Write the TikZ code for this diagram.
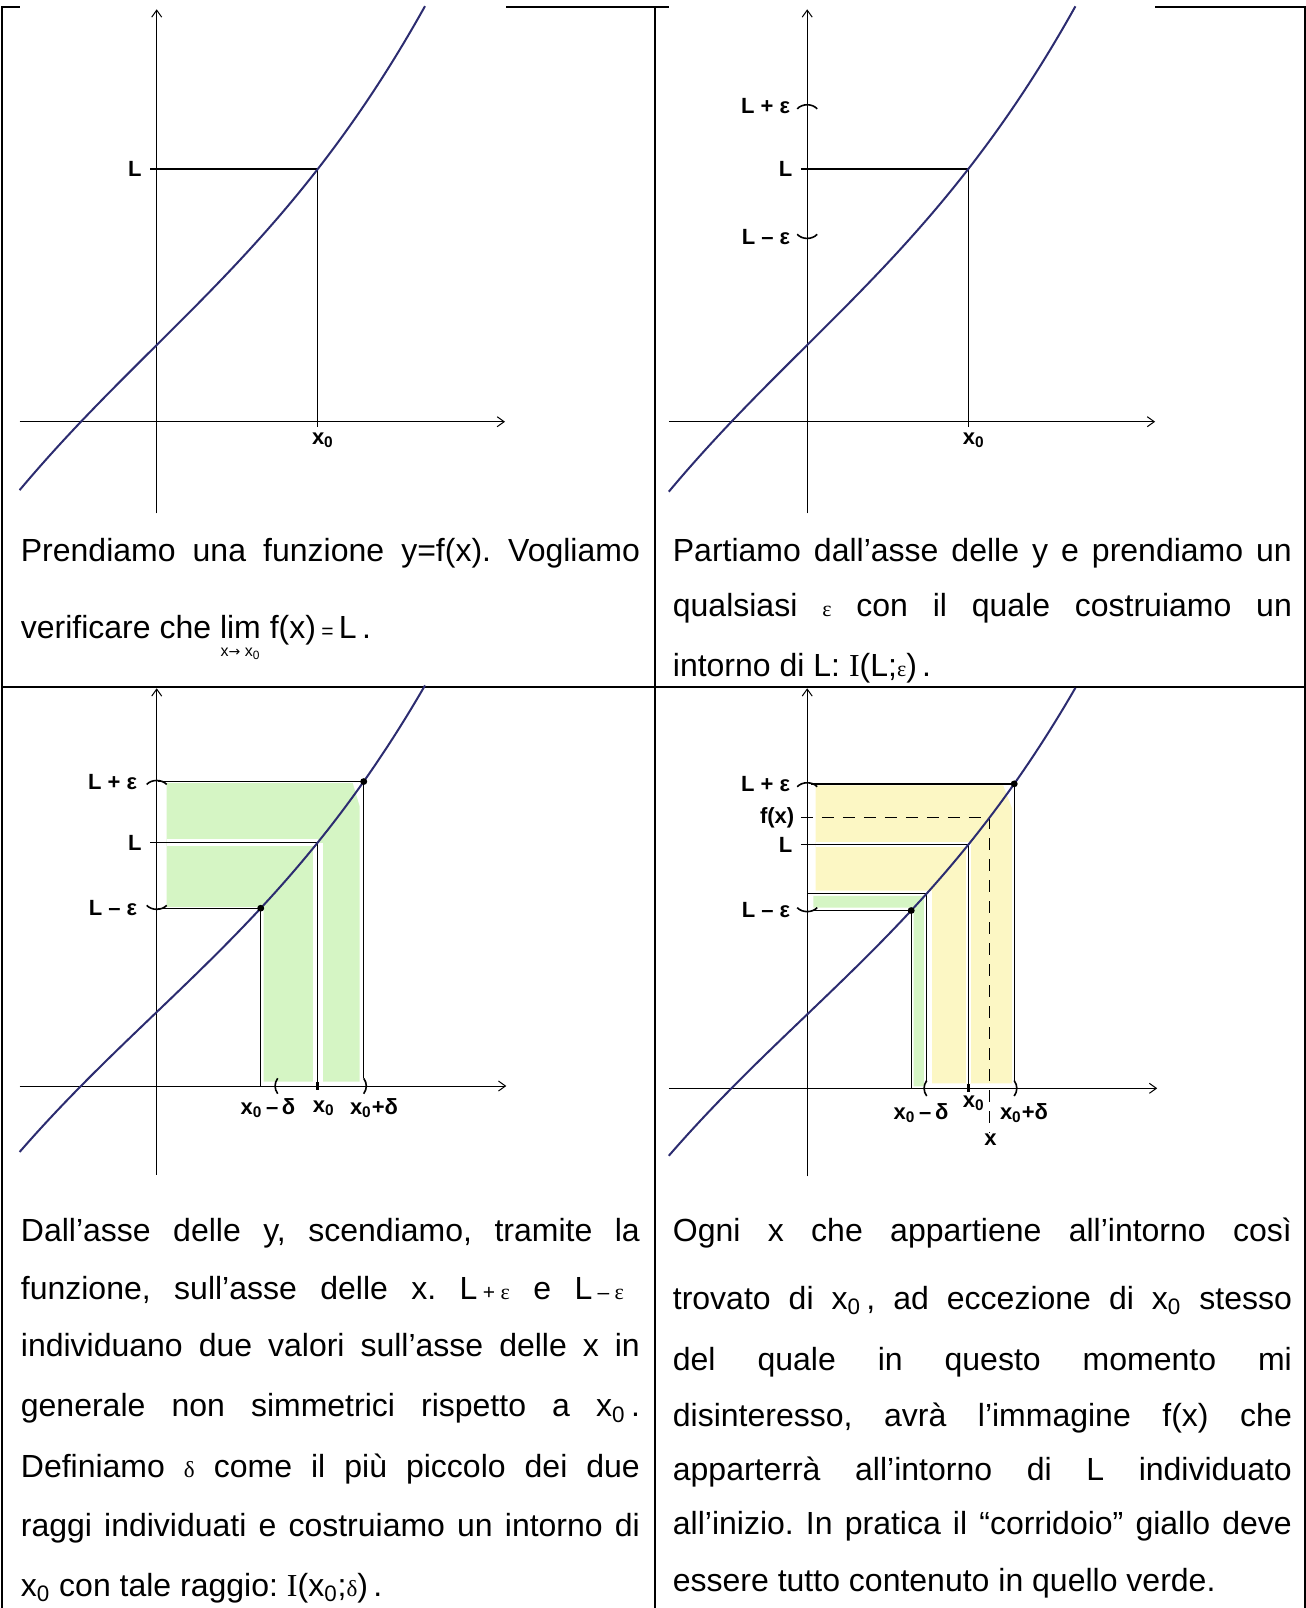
\documentclass[tikz,border=0pt]{standalone}
\usepackage{fontspec}
\setmainfont{Liberation Sans}
\newfontfamily\grserif{Liberation Serif}
\newfontfamily\arrowfont{DejaVu Sans}
\usetikzlibrary{arrows.meta}
\frenchspacing

\definecolor{curveblue}{RGB}{44,44,112}
\definecolor{bandgreen}{RGB}{213,245,196}
\definecolor{bandyellow}{RGB}{252,247,196}

\newlength{\colw}
\setlength{\colw}{309.5pt}
\newcommand{\jline}[1]{\makebox[\colw][s]{#1}}
\newcommand{\capsize}{\fontsize{16}{19}\selectfont}
\newcommand{\lblsize}{\fontsize{11}{13}\selectfont\bfseries}
\newcommand{\xz}{x\textsubscript{0}}
\newcommand{\seps}{{\grserif\fontsize{11}{10}\selectfont ε}}
\newcommand{\sdelta}{{\grserif\fontsize{11.5}{10}\selectfont δ}}
\newcommand{\smallop}[1]{{\fontsize{10.5}{10}\selectfont #1}}
\newcommand{\limsub}{\raisebox{-3pt}{\fontsize{8}{8}\selectfont x{\arrowfont\fontsize{7}{7}\selectfont →} x\textsubscript{0}}}

\begin{document}
\begin{tikzpicture}[
    x=0.5pt, y=-0.5pt,
    declare function={fc(\u)=76.7+99.36*\u+0.2632*\u*\u+3.6444*\u*\u*\u;},
    border/.style={line width=1pt},
    axis/.style={line width=0.5pt, -{Straight Barb[length=3.5pt,width=5pt]}},
    guide/.style={line width=0.65pt},
    dashguide/.style={guide, dash pattern=on 6pt off 4.5pt},
    curve/.style={draw=curveblue, line width=1pt},
    paren/.style={line width=0.8pt},
    lbl/.style={font=\lblsize, inner sep=0pt},
    txt/.style={font=\capsize, anchor=base west, inner sep=0pt}
]
\useasboundingbox (0,0) rectangle (1306,1608);

% -------- Table --------
\draw[border] (1.5,1608) -- (1.5,7) -- (1304.5,7) -- (1304.5,1608);
\draw[border] (655,7) -- (655,1608);
\draw[border] (1.5,686.7) -- (1304.5,686.7);
\fill[white] (19.6,4) rectangle (505.5,10);
\fill[white] (668.8,4) rectangle (1155.1,10);

% -------- Panel 1 --------
\begin{scope}[shift={(156.7,421.7)}, yscale=-1]
  \draw[axis] (-137.1,0) -- (348.3,0);
  \draw[axis] (0,-91.6) -- (0,412.4);
  \draw[guide] (-6.7,{fc(1.61)}) -- (161,{fc(1.61)}) -- (161,-5);
  \draw[curve] plot[domain=-1.371:2.683, samples=80] ({100*\x},{fc(\x)});
\end{scope}
\node[lbl, anchor=east] (l1) at (142,169.1) {L};
\node[lbl] (x1) at (322.9,440) {\xz};

% -------- Panel 2 --------
\begin{scope}[shift={(807.2,421.7)}, yscale=-1]
  \draw[axis] (-138.4,0) -- (347.9,0);
  \draw[axis] (0,-91.6) -- (0,412.4);
  \draw[guide] (-6.3,{fc(1.61)}) -- (161,{fc(1.61)}) -- (161,-5);
  \draw[paren] (-10,{fc(2.07)-3}) .. controls (-5,{fc(2.07)+2.5}) and (5,{fc(2.07)+2.5}) .. (10,{fc(2.07)-3});
  \draw[paren] (-10,{fc(1.04)+3}) .. controls (-5,{fc(1.04)-2.5}) and (5,{fc(1.04)-2.5}) .. (10,{fc(1.04)+3});
  \draw[curve] plot[domain=-1.384:2.683, samples=80] ({100*\x},{fc(\x)});
\end{scope}
\node[lbl, anchor=east] (lpe2) at (790.5,105.9) {L + ε};
\node[lbl, anchor=east] (l2) at (792.6,169.1) {L};
\node[lbl, anchor=east] (lme2) at (790.5,237.3) {L – ε};
\node[lbl] (x2) at (973.8,440) {\xz};

% -------- Panel 3 --------
\begin{scope}[shift={(156.7,1086)}, yscale=-0.964]
  \fill[bandgreen] (10,{fc(2.07)-1.5}) -- (196,{fc(2.07)-1.5}) -- (203,290) -- (203,4.5)
    -- (107,4.5) -- (107,{fc(1.04)+1.5}) -- (10,{fc(1.04)+1.5}) -- cycle;
  \draw[white, line width=3.5pt] (10,{fc(1.61)}) -- (161,{fc(1.61)});
  \draw[white, line width=5pt] (161,{fc(1.61)}) -- (161,4.5);
  \draw[axis] (-137.1,0) -- (349.6,0);
  \draw[axis] (0,-92.3) -- (0,412.6);
  \draw[guide] (1.6,{fc(2.07)}) -- (207,{fc(2.07)}) -- (207,8);
  \draw[guide] (-6.7,{fc(1.61)}) -- (161,{fc(1.61)}) -- (161,-4);
  \draw[guide] (1.6,{fc(1.04)}) -- (104,{fc(1.04)}) -- (104,0);
  \draw[line width=1.3pt] (161,-4) -- (161,4);
  \draw[paren] (121,8) .. controls (117.5,3) and (117.5,-3) .. (121,-8);
  \draw[paren] (207,8) .. controls (210.5,3) and (210.5,-3) .. (207,-8);
  \draw[paren] (-10,{fc(2.07)-3}) .. controls (-5,{fc(2.07)+2.5}) and (5,{fc(2.07)+2.5}) .. (10,{fc(2.07)-3});
  \draw[paren] (-10,{fc(1.04)+3}) .. controls (-5,{fc(1.04)-2.5}) and (5,{fc(1.04)-2.5}) .. (10,{fc(1.04)+3});
  \draw[curve] plot[domain=-1.371:2.683, samples=80] ({100*\x},{fc(\x)});
  \fill (207,{fc(2.07)}) circle [radius=3.5];
  \fill (104,{fc(1.04)}) circle [radius=3.5];
\end{scope}
\node[lbl, anchor=east] (lpe3) at (137.5,781.6) {L + ε};
\node[lbl, anchor=east] (l3) at (142,842.5) {L};
\node[lbl, anchor=east] (lme3) at (137.5,908.2) {L – ε};
\node[lbl] (xmd3) at (268,1108.3) {\xz\,–\,δ};
\node[lbl] (x3) at (323.8,1108.3) {\xz};
\node[lbl] (xpd3) at (374,1108.3) {\xz+δ};

% -------- Panel 4 --------
\begin{scope}[shift={(807.2,1088.3)}, yscale=-0.964]
  \fill[bandyellow] (8.3,{fc(2.07)-1.5}) -- (196,{fc(2.07)-1.5}) -- (205,290) -- (205,5.2)
    -- (125,5.2) -- (125,{fc(1.195)+3}) -- (8.3,{fc(1.195)+3}) -- cycle;
  \fill[bandgreen] (6.2,{fc(1.195)-2.5}) -- (116.6,{fc(1.195)-2.5}) -- (116.6,2)
    -- (106.5,2) -- (106.5,{fc(1.04)+3}) -- (6.2,{fc(1.04)+3}) -- cycle;
  \draw[white, line width=2.5pt] (8.3,{fc(1.61)}) -- (161,{fc(1.61)}) -- (161,5.2);
  \draw[axis] (-138.4,0) -- (350,0);
  \draw[axis] (0,-91.3) -- (0,415);
  \draw[guide] (4.1,{fc(2.07)}) -- (207,{fc(2.07)}) -- (207,8);
  \draw[dashguide] (-6.3,{fc(1.825)}) -- (182.5,{fc(1.825)});
  \draw[dashguide] (182.5,{fc(1.825)}) -- (182.5,-46.7);
  \draw[guide] (-6.3,{fc(1.61)}) -- (161,{fc(1.61)}) -- (161,-4);
  \draw[guide] (0,{fc(1.195)}) -- (119.5,{fc(1.195)}) -- (119.5,8);
  \draw[guide] (4.1,{fc(1.04)}) -- (104,{fc(1.04)}) -- (104,0);
  \draw[line width=1.3pt] (161,-4) -- (161,4);
  \draw[paren] (119.5,8) .. controls (116,3) and (116,-3) .. (119.5,-8);
  \draw[paren] (207,8) .. controls (210.5,3) and (210.5,-3) .. (207,-8);
  \draw[paren] (-10,{fc(2.07)-3}) .. controls (-5,{fc(2.07)+2.5}) and (5,{fc(2.07)+2.5}) .. (10,{fc(2.07)-3});
  \draw[paren] (-10,{fc(1.04)+3}) .. controls (-5,{fc(1.04)-2.5}) and (5,{fc(1.04)-2.5}) .. (10,{fc(1.04)+3});
  \draw[curve] plot[domain=-1.384:2.683, samples=80] ({100*\x},{fc(\x)});
  \fill (207,{fc(2.07)}) circle [radius=3.5];
  \fill (104,{fc(1.04)}) circle [radius=3.5];
\end{scope}
\node[lbl, anchor=east] (lpe4) at (790.5,783.9) {L + ε};
\node[lbl, anchor=east] (fx4) at (794.7,817.3) {f(x)};
\node[lbl, anchor=east] (l4) at (792.6,844.8) {L};
\node[lbl, anchor=east] (lme4) at (790.5,910.5) {L – ε};
\node[lbl] (xmd4) at (921,1113.3) {\xz\,–\,δ};
\node[lbl] (x4) at (973.8,1103.3) {\xz};
\node[lbl] (xpd4) at (1024,1113.3) {\xz+δ};
\node[lbl] (xx4) at (990.5,1140) {x};

% -------- Captions --------
\node[txt] (t1a) at (20.5,561) {\jline{Prendiamo una funzione y=f(x). Vogliamo}};
\node[txt] (t1b) at (20.5,638.5) {verificare che $\mathop{\hbox{lim}}\limits_{\hbox{\limsub}}$\ f(x)\,\smallop{=}\,L\,.};

\node[txt] (t2a) at (672.5,561) {\jline{Partiamo dall’asse delle y e prendiamo un}};
\node[txt] (t2b) at (672.5,616.3) {\jline{qualsiasi \seps{} con il quale costruiamo un}};
\node[txt] (t2c) at (672.5,676) {intorno di L: {\grserif I}(L;\seps)\,.};

\node[txt] (t3a) at (20.5,1241.6) {\jline{Dall’asse delle y, scendiamo, tramite la}};
\node[txt] (t3b) at (20.5,1299) {\jline{funzione, sull’asse delle x. L\,\smallop{+}\,\seps{} e L\,\smallop{–}\,\seps\hspace{8pt}}};
\node[txt] (t3c) at (20.5,1356.5) {\jline{individuano due valori sull’asse delle x in}};
\node[txt] (t3d) at (20.5,1416.9) {\jline{generale non simmetrici rispetto a \xz\,.}};
\node[txt] (t3e) at (20.5,1477.5) {\jline{Definiamo \sdelta{} come il più piccolo dei due}};
\node[txt] (t3f) at (20.5,1536.9) {\jline{raggi individuati e costruiamo un intorno di}};
\node[txt] (t3g) at (20.5,1596.5) {\xz{} con tale raggio: {\grserif I}(\xz;\sdelta)\,.};

\node[txt] (t4a) at (672.5,1241.6) {\jline{Ogni x che appartiene all’intorno così}};
\node[txt] (t4b) at (672.5,1309.3) {\jline{trovato di \xz\,, ad eccezione di \xz{} stesso}};
\node[txt] (t4c) at (672.5,1370.8) {\jline{del quale in questo momento mi}};
\node[txt] (t4d) at (672.5,1426.2) {\jline{disinteresso, avrà l’immagine f(x) che}};
\node[txt] (t4e) at (672.5,1480.5) {\jline{apparterrà all’intorno di L individuato}};
\node[txt] (t4f) at (672.5,1534.8) {\jline{all’inizio. In pratica il “corridoio” giallo deve}};
\node[txt] (t4g) at (672.5,1591.2) {essere tutto contenuto in quello verde.};

\end{tikzpicture}
\end{document}
